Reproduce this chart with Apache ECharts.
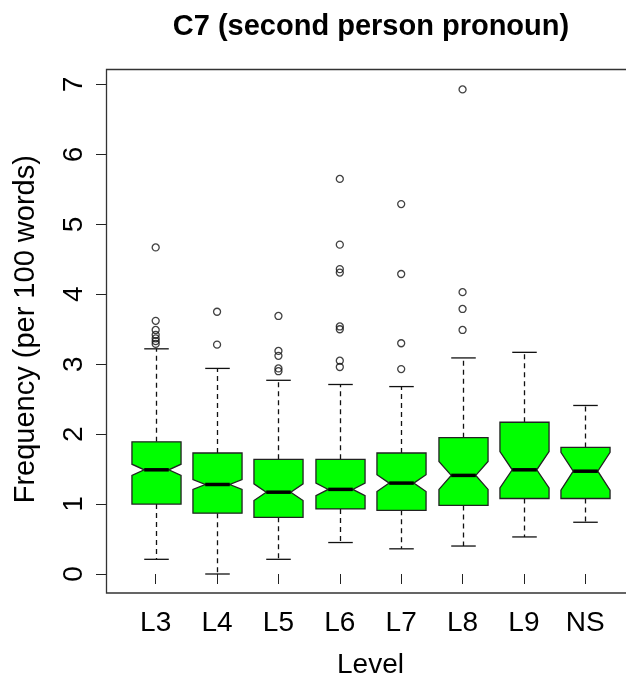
<!DOCTYPE html>
<html>
<head>
<meta charset="utf-8">
<script src="https://cdn.jsdelivr.net/npm/echarts@6/dist/echarts.min.js"></script>
<style>
html,body{margin:0;padding:0;background:#fff;}
#chart{width:626px;height:678px;}
</style>
</head>
<body>
<div id="chart"></div>
<script>
// ---- data ----
const titleText = 'C7 (second person pronoun)';
const xName = 'Level';
const yName = 'Frequency (per 100 words)';
const categories = ['L3', 'L4', 'L5', 'L6', 'L7', 'L8', 'L9', 'NS'];
const whiskerLow  = [0.21, 0.00, 0.21, 0.45, 0.36, 0.40, 0.53, 0.74];
const q1          = [1.00, 0.87, 0.81, 0.93, 0.91, 0.98, 1.08, 1.08];
const median      = [1.49, 1.28, 1.17, 1.21, 1.30, 1.41, 1.49, 1.47];
const q3          = [1.89, 1.73, 1.64, 1.64, 1.73, 1.95, 2.17, 1.81];
const whiskerHigh = [3.22, 2.94, 2.77, 2.71, 2.68, 3.09, 3.17, 2.41];
const notchHalf   = [0.08, 0.07, 0.12, 0.09, 0.12, 0.20, 0.26, 0.27];
const outliers = [
  [4.67, 3.62, 3.49, 3.42, 3.37, 3.33, 3.29],
  [3.75, 3.28],
  [3.69, 3.19, 3.12, 2.94, 2.90],
  [5.65, 4.71, 4.36, 4.31, 3.54, 3.50, 3.05, 2.96],
  [5.29, 4.29, 3.30, 2.93],
  [6.93, 4.03, 3.79, 3.49],
  [],
  []
];
const yTicks = [0, 1, 2, 3, 4, 5, 6, 7];

// ---- build series data ----
const boxData = categories.map((c, i) => [i, whiskerLow[i], q1[i], median[i], q3[i], whiskerHigh[i], notchHalf[i]]);
const outlierData = [];
outliers.forEach((arr, i) => arr.forEach(v => outlierData.push([i, v])));

function renderBox(params, api) {
  const i = api.value(0);
  const unit = api.size([1, 0])[0];
  const w = unit * 0.4, sw = unit * 0.2;
  const P = v => api.coord([i, v]);
  const med = api.value(3), n = api.value(6);
  const cx = Math.round(P(med)[0]) + 0.5;
  const yLow = P(api.value(1))[1], yQ1 = P(api.value(2))[1], yMed = P(med)[1];
  const yQ3 = P(api.value(4))[1], yHigh = P(api.value(5))[1];
  const yNHi = P(med + n)[1], yNLo = P(med - n)[1];
  const dash = {stroke: '#111', lineWidth: 1.3, lineDash: [5, 4]};
  const solid = {stroke: '#111', lineWidth: 1.3};
  return {
    type: 'group',
    children: [
      {type: 'line', shape: {x1: cx, y1: yQ3, x2: cx, y2: yHigh}, style: dash},
      {type: 'line', shape: {x1: cx, y1: yQ1, x2: cx, y2: yLow}, style: dash},
      {type: 'line', shape: {x1: cx - sw, y1: yHigh, x2: cx + sw, y2: yHigh}, style: solid},
      {type: 'line', shape: {x1: cx - sw, y1: yLow, x2: cx + sw, y2: yLow}, style: solid},
      {type: 'polygon', shape: {points: [
        [cx - w, yQ3], [cx - w, yNHi], [cx - w / 2, yMed], [cx - w, yNLo], [cx - w, yQ1],
        [cx + w, yQ1], [cx + w, yNLo], [cx + w / 2, yMed], [cx + w, yNHi], [cx + w, yQ3]
      ]}, style: {fill: '#00ff00', stroke: '#222', lineWidth: 1.3}},
      {type: 'line', shape: {x1: cx - w / 2, y1: yMed, x2: cx + w / 2, y2: yMed}, style: {stroke: '#000', lineWidth: 3.5}}
    ]
  };
}

const FONT = 'Liberation Sans, Arial, sans-serif';
const chart = echarts.init(document.getElementById('chart'), null, {renderer: 'canvas'});
chart.setOption({
  backgroundColor: '#fff',
  animation: false,
  textStyle: {fontFamily: FONT},
  title: {
    text: titleText, left: 366, top: 7, textAlign: 'center',
    textStyle: {fontFamily: FONT, fontSize: 29, fontWeight: 'bold', color: '#000'}
  },
  grid: {left: 125, top: 84.5, width: 491, height: 489.5, containLabel: false, outerBoundsMode: 'none'},
  xAxis: {
    type: 'category', data: categories, offset: 19,
    axisLine: {show: false},
    axisTick: {show: true, alignWithLabel: true, length: 10, lineStyle: {color: '#222'}},
    axisLabel: {color: '#000', fontSize: 28, fontFamily: FONT, margin: 16, interval: 0},
    splitLine: {show: false},
    name: xName, nameLocation: 'middle', nameGap: 58,
    nameTextStyle: {color: '#000', fontSize: 28, fontFamily: FONT}
  },
  yAxis: {
    type: 'value', min: 0, max: 7, interval: 1, offset: 19,
    axisLine: {show: false},
    axisTick: {show: true, length: 10, lineStyle: {color: '#222'}},
    axisLabel: {color: '#000', fontSize: 28, fontFamily: FONT, rotate: 90, margin: 18,
      formatter: v => (yTicks.indexOf(v) >= 0 ? String(v) : '')},
    splitLine: {show: false},
    name: yName, nameLocation: 'middle', nameRotate: 90, nameGap: 66,
    nameTextStyle: {color: '#000', fontSize: 29, fontFamily: FONT}
  },
  graphic: [{
    type: 'rect', silent: true, z: 0,
    shape: {x: 106.5, y: 69.5, width: 600, height: 523.5},
    style: {fill: null, stroke: '#333', lineWidth: 1.3}
  }],
  series: [
    {
      type: 'custom', renderItem: renderBox, data: boxData,
      encode: {x: 0, y: [1, 2, 3, 4, 5]}, z: 3
    },
    {
      type: 'scatter', data: outlierData, symbol: 'circle', symbolSize: 7,
      itemStyle: {color: 'rgba(255,255,255,0)', borderColor: '#111', borderWidth: 1.3}, z: 4
    }
  ]
});
</script>
</body>
</html>
